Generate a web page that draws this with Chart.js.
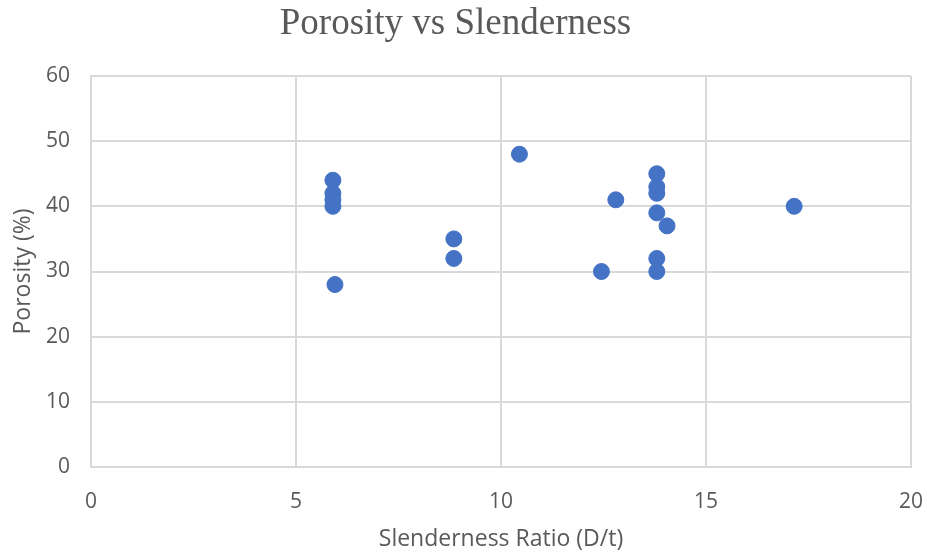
<!DOCTYPE html>
<html lang="en">
<head>
  <meta charset="UTF-8">
  <title>Porosity vs Slenderness</title>
  <script src="https://cdn.jsdelivr.net/npm/chart.js"></script>
  <style>
    html, body {
      margin: 0;
      padding: 0;
      background: #ffffff;
    }
    #wrap {
      width: 927px;
      height: 553px;
    }
  </style>
</head>
<body>
  <div id="wrap"><canvas id="porosityChart"></canvas></div>

  <script>
    // slenderness ratio D/t and measured porosity, one entry per specimen
    const slenderness = [5.9, 5.9, 5.9, 5.9, 5.95, 8.85, 8.85, 10.45, 12.45, 12.8,
                         13.8, 13.8, 13.8, 13.8, 13.8, 13.8, 14.05, 17.15];
    const porosity = [44, 42, 41, 40, 28, 35, 32, 48, 30, 41,
                      45, 43, 42, 39, 32, 30, 37, 40];

    const xTicks = [0, 5, 10, 15, 20];
    const yTicks = [0, 10, 20, 30, 40, 50, 60];

    const points = slenderness.map((x, i) => ({ x: x, y: porosity[i] }));

    const gray = '#595959';
    const gridColor = '#d9d9d9';
    const tickFont = { family: 'Open Sans', size: 21 };
    const axisTitleFont = { family: 'Open Sans', size: 23 };

    const ctx = document.getElementById('porosityChart').getContext('2d');

    new Chart(ctx, {
      type: 'scatter',
      data: {
        datasets: [
          {
            label: 'Porosity',
            data: points,
            backgroundColor: '#4472c4',
            borderColor: '#4472c4',
            pointRadius: 8,
            pointHoverRadius: 8
          }
        ]
      },
      options: {
        responsive: true,
        maintainAspectRatio: false,
        animation: false,
        layout: {
          padding: { left: 0, right: 16, top: 0, bottom: 0 }
        },
        plugins: {
          legend: { display: false },
          tooltip: { enabled: false },
          title: {
            display: true,
            text: 'Porosity vs Slenderness',
            color: gray,
            font: { family: 'Liberation Serif', size: 37, weight: 'normal' },
            padding: { top: 2, bottom: 29.6 }
          }
        },
        scales: {
          x: {
            type: 'linear',
            min: 0,
            max: 20,
            afterBuildTicks: scale => {
              scale.ticks = xTicks.map(v => ({ value: v }));
            },
            afterFit: scale => {
              // fixed axis band, end labels allowed to overhang the plot
              scale.height = 86;
              scale.paddingLeft = 0;
              scale.paddingRight = 0;
            },
            title: {
              display: true,
              text: 'Slenderness Ratio (D/t)',
              color: gray,
              font: axisTitleFont,
              padding: { top: 0, bottom: 0 }
            },
            ticks: {
              color: gray,
              font: tickFont,
              padding: 22
            },
            grid: {
              color: gridColor,
              lineWidth: 2,
              drawTicks: false
            },
            border: {
              color: gridColor,
              width: 2
            }
          },
          y: {
            min: 0,
            max: 60,
            afterBuildTicks: scale => {
              scale.ticks = yTicks.map(v => ({ value: v }));
            },
            afterFit: scale => {
              scale.width = 91;
              scale.paddingTop = 0;
              scale.paddingBottom = 0;
            },
            title: {
              display: true,
              text: 'Porosity (%)',
              color: gray,
              font: axisTitleFont,
              padding: { top: 10, bottom: 0 }
            },
            ticks: {
              color: gray,
              font: tickFont,
              padding: 21
            },
            grid: {
              color: gridColor,
              lineWidth: 2,
              drawTicks: false
            },
            border: {
              color: gridColor,
              width: 2
            }
          }
        }
      }
    });
  </script>
</body>
</html>
